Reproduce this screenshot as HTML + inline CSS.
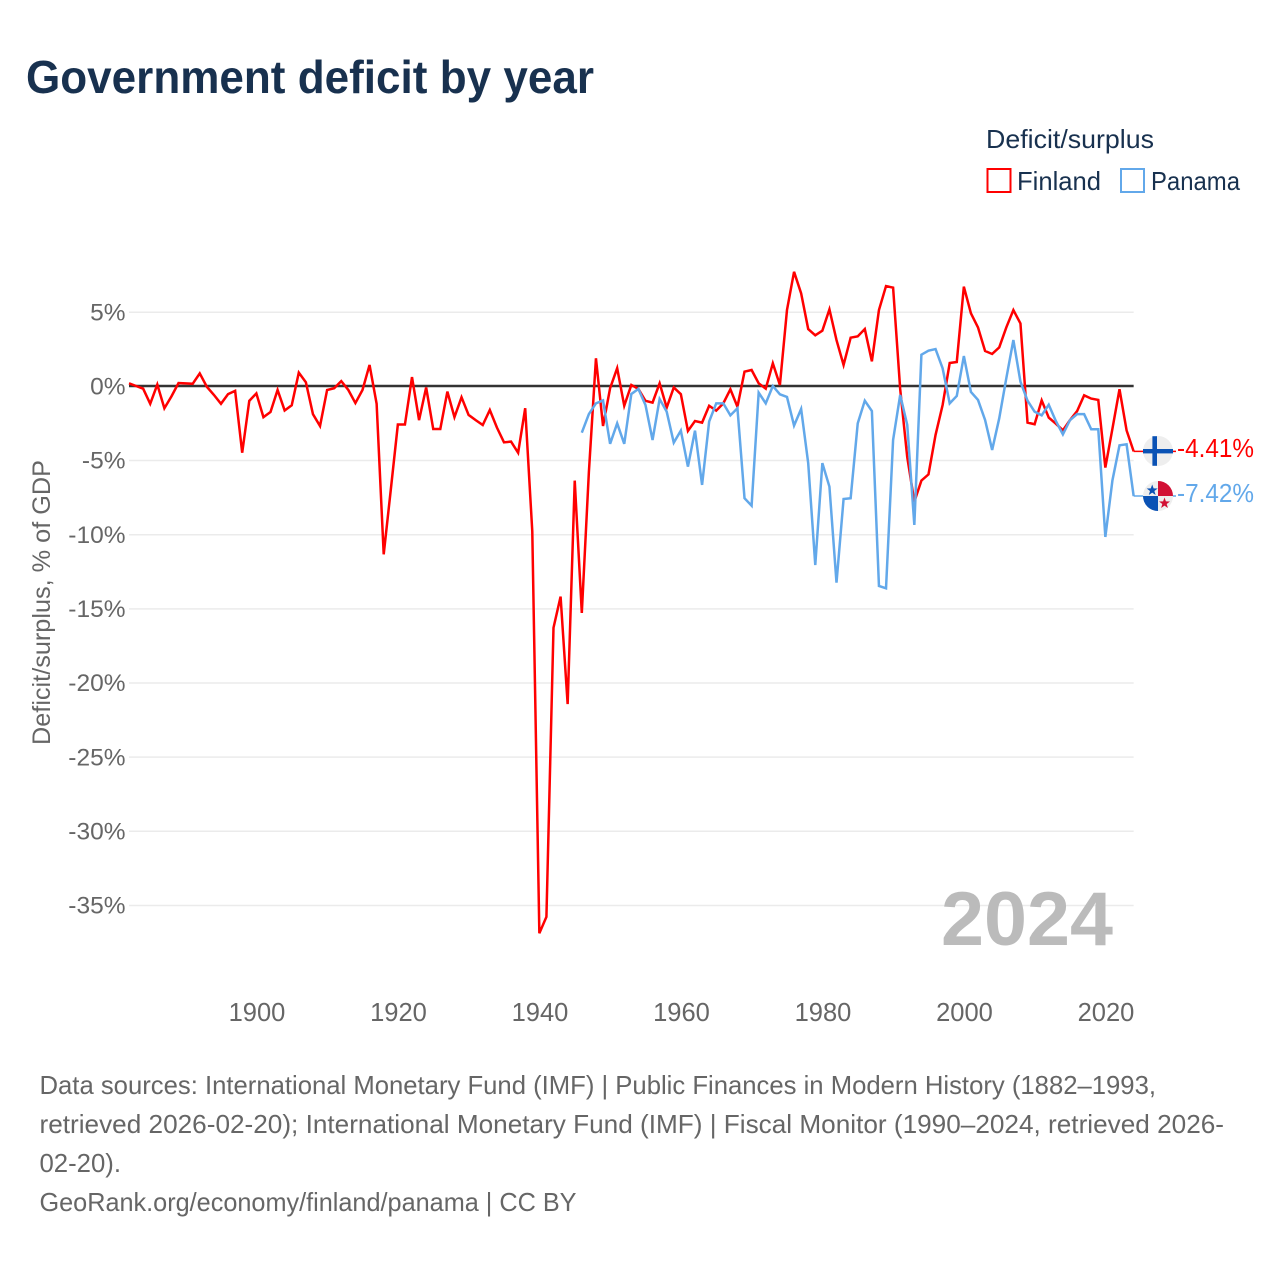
<!DOCTYPE html>
<html lang="en">
<head>
<meta charset="utf-8">
<title>Government deficit by year</title>
<style>
html,body{margin:0;padding:0;background:#fff;width:1280px;height:1280px;overflow:hidden}
svg{display:block}
text{font-family:"Liberation Sans",sans-serif}
</style>
</head>
<body>
<svg id="chart" width="1280" height="1280" viewBox="0 0 1280 1280" xmlns="http://www.w3.org/2000/svg">
  <text x="26" y="93" font-size="46" font-weight="700" fill="#18314f" textLength="568" lengthAdjust="spacingAndGlyphs">Government deficit by year</text>

  <g>
    <text x="986" y="148" font-size="26" fill="#18314f" textLength="168" lengthAdjust="spacingAndGlyphs">Deficit/surplus</text>
    <rect x="987.5" y="169" width="23" height="23" fill="none" stroke="#ff0000" stroke-width="2"/>
    <text x="1017" y="190" font-size="26" fill="#18314f" textLength="84" lengthAdjust="spacingAndGlyphs">Finland</text>
    <rect x="1121" y="169" width="23" height="23" fill="none" stroke="#62a8ea" stroke-width="2"/>
    <text x="1151" y="190" font-size="26" fill="#18314f" textLength="89" lengthAdjust="spacingAndGlyphs">Panama</text>
  </g>

  <g id="grid"></g>
  <g id="yticks"></g>
  <g id="xticks"></g>

  <text transform="translate(50,602.5) rotate(-90)" text-anchor="middle" font-size="25" fill="#666666" textLength="285" lengthAdjust="spacingAndGlyphs">Deficit/surplus, % of GDP</text>

  <text x="941" y="945" font-size="76" font-weight="700" fill="#bbbbbb" textLength="172" lengthAdjust="spacingAndGlyphs">2024</text>

  <g id="series"></g>
  <g id="endlabels"></g>

  <g id="flag-finland">
    <circle cx="1158" cy="451" r="15" fill="#eeeeee"/>
    <rect x="1143" y="449" width="30" height="4.4" fill="#0a52b5"/>
    <rect x="1152.4" y="436.2" width="4.6" height="29.6" fill="#0a52b5"/>
  </g>
  <g id="flag-panama">
    <circle cx="1158" cy="496" r="15" fill="#eeeeee"/>
    <path d="M1158 496V481A15 15 0 0 1 1173 496Z" fill="#d21034"/>
    <path d="M1158 496V511A15 15 0 0 1 1143 496Z" fill="#0a52b5"/>
    <polygon points="1152,484.5 1153.4,488.4 1157.5,488.5 1154.2,491 1155.4,495 1152,492.6 1148.6,495 1149.8,491 1146.5,488.5 1150.6,488.4" fill="#0a52b5" transform="translate(0.2,0)"/>
    <polygon points="1164.5,497.5 1165.9,501.4 1170,501.5 1166.7,504 1167.9,508 1164.5,505.6 1161.1,508 1162.3,504 1159,501.5 1163.1,501.4" fill="#d21034"/>
  </g>

  <g font-size="26" fill="#666666">
    <text x="39.5" y="1094" textLength="1116.5" lengthAdjust="spacingAndGlyphs">Data sources: International Monetary Fund (IMF) | Public Finances in Modern History (1882–1993,</text>
    <text x="39.5" y="1133" textLength="1184.5" lengthAdjust="spacingAndGlyphs">retrieved 2026-02-20); International Monetary Fund (IMF) | Fiscal Monitor (1990–2024, retrieved 2026-</text>
    <text x="39.5" y="1172" textLength="81.5" lengthAdjust="spacingAndGlyphs">02-20).</text>
    <text x="39.5" y="1211" textLength="537" lengthAdjust="spacingAndGlyphs">GeoRank.org/economy/finland/panama | CC BY</text>
  </g>
</svg>

<script>
// Chart data
const finlandStartYear = 1882;
const finlandValues = [
  0.18, 0, -0.18, -1.2, 0.1, -1.5, -0.7, 0.2, 0.18, 0.15,
  0.85, -0.05, -0.6, -1.2, -0.55, -0.33, -4.5, -1.0, -0.5, -2.1,
  -1.75, -0.27, -1.65, -1.3, 0.9, 0.25, -1.9, -2.7, -0.27, -0.15,
  0.33, -0.27, -1.15, -0.27, 1.42, -1.2, -11.35, -7, -2.6, -2.6,
  0.6, -2.3, -0.1, -2.9, -2.9, -0.38, -2.1, -0.76, -1.95, -2.3,
  -2.63, -1.62, -2.8, -3.8, -3.75, -4.5, -1.5, -9.8, -36.9, -35.8,
  -16.3, -14.2, -21.45, -6.38, -15.3, -5.8, 1.87, -2.7, -0.15, 1.2,
  -1.33, 0.07, -0.2, -1, -1.12, 0.18, -1.46, -0.1, -0.55, -3.03,
  -2.36, -2.47, -1.33, -1.66, -1.17, -0.22, -1.4, 0.97, 1.08, 0.18,
  -0.18, 1.53, 0.07, 5.12, 7.7, 6.25, 3.84, 3.42, 3.73, 5.17,
  3.1, 1.42, 3.26, 3.35, 3.84, 1.66, 5.12, 6.74, 6.63, -0.2,
  -4.8, -7.8, -6.38, -5.96, -3.3, -1.28, 1.55, 1.62, 6.7, 4.9,
  3.95, 2.36, 2.16, 2.6, 3.95, 5.12, 4.22, -2.47, -2.58, -0.97,
  -2.13, -2.54, -2.99, -2.3, -1.7, -0.63, -0.85, -0.94, -5.5, -2.88,
  -0.22, -2.99, -4.41
];
const panamaStartYear = 1946;
const panamaValues = [
  -3.15, -1.89, -1.17, -0.97, -3.9, -2.52, -3.9, -0.54, -0.2, -1.28,
  -3.64, -0.88, -1.73, -3.82, -3.01, -5.44, -3.01, -6.67, -2.4, -1.17,
  -1.17, -1.98, -1.5, -7.57, -8.07, -0.45, -1.17, 0, -0.56, -0.74,
  -2.67, -1.55, -5.2, -12.07, -5.2, -6.79, -13.26, -7.62, -7.57, -2.52,
  -0.99, -1.69, -13.48, -13.64, -3.64, -0.6, -2.63, -9.37, 2.11, 2.38,
  2.49, 1.19, -1.17, -0.67, 2.02, -0.4, -0.94, -2.29, -4.31, -2.18,
  0.52, 3.1, 0.29, -0.99, -1.73, -1.98, -1.26, -2.36, -3.26, -2.3,
  -1.9, -1.9, -2.92, -2.92, -10.18, -6.36, -4, -3.93, -7.42
];
const yTickValues = [5, 0, -5, -10, -15, -20, -25, -30, -35];
const xTickYears = [1900, 1920, 1940, 1960, 1980, 2000, 2020];

// Axis functions
function xScale(year) { return 129 + (year - 1882) * 7.075; }
function yScale(v) { return 386 - v * 14.83; }

const NS = 'http://www.w3.org/2000/svg';
function make(tag, attrs, parent, text) {
  const node = document.createElementNS(NS, tag);
  for (const k in attrs) node.setAttribute(k, attrs[k]);
  if (text !== undefined) node.textContent = text;
  parent.appendChild(node);
  return node;
}

const gridGroup = document.getElementById('grid');
const yTickGroup = document.getElementById('yticks');
const xTickGroup = document.getElementById('xticks');
const seriesGroup = document.getElementById('series');
const labelGroup = document.getElementById('endlabels');
const plotLeft = xScale(1882);
const plotRight = xScale(2024);

yTickValues.forEach(function (v) {
  if (v !== 0) {
    const grid = make('line', { x1: plotLeft, x2: plotRight, y1: yScale(v) + 0.4, y2: yScale(v) + 0.4, stroke: '#ebebeb', 'stroke-width': 1.5 }, gridGroup);
    
    
  }
  const tick = make('text', { x: 125.5, y: yScale(v) + 8.5, 'text-anchor': 'end', 'font-size': 24.5, fill: '#666666' }, yTickGroup, v + '%');
  
  
});

const zeroLine = make('line', { x1: plotLeft, x2: plotRight, y1: yScale(0), y2: yScale(0), stroke: '#333333', 'stroke-width': 2.4 }, gridGroup);



xTickYears.forEach(function (year) {
  const tick = make('text', { x: xScale(year) + 0.6, y: 1021, 'text-anchor': 'middle', 'font-size': 25.5, fill: '#666666' }, xTickGroup, String(year));
  
  
});

function linePoints(startYear, values) {
  return values.map(function (v, i) {
    return xScale(startYear + i).toFixed(2) + ',' + yScale(v).toFixed(2);
  }).join(' ');
}

const finlandLine = make('polyline', { points: linePoints(finlandStartYear, finlandValues), fill: 'none', stroke: '#ff0000', 'stroke-width': 2.5, 'stroke-linejoin': 'miter', 'stroke-miterlimit': 4 }, seriesGroup);



const panamaLine = make('polyline', { points: linePoints(panamaStartYear, panamaValues), fill: 'none', stroke: '#62a8ea', 'stroke-width': 2.5, 'stroke-linejoin': 'miter', 'stroke-miterlimit': 4 }, seriesGroup);



const finlandLast = finlandValues[finlandValues.length - 1];
const panamaLast = panamaValues[panamaValues.length - 1];

const finlandConnector = make('line', { x1: plotRight, x2: 1176, y1: yScale(finlandLast), y2: yScale(finlandLast), stroke: '#ff0000', 'stroke-width': 1.5 }, seriesGroup);



const panamaConnector = make('line', { x1: plotRight, x2: 1176, y1: yScale(panamaLast), y2: yScale(panamaLast), stroke: '#62a8ea', 'stroke-width': 1.5 }, seriesGroup);



const finlandLabel = make('text', { x: 1177, y: 457, 'font-size': 25.5, fill: '#ff0000', textLength: 77, lengthAdjust: 'spacingAndGlyphs' }, labelGroup, finlandLast.toFixed(2) + '%');



const panamaLabel = make('text', { x: 1177, y: 502, 'font-size': 25.5, fill: '#62a8ea', textLength: 77, lengthAdjust: 'spacingAndGlyphs' }, labelGroup, panamaLast.toFixed(2) + '%');


</script>
</body>
</html>
